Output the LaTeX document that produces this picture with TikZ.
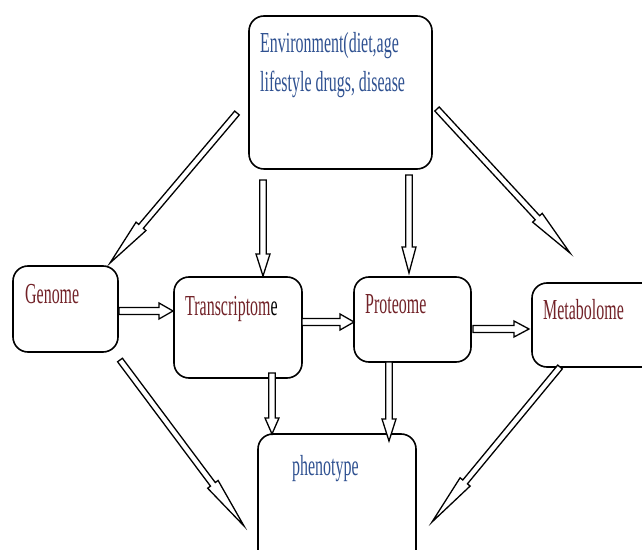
\documentclass[tikz,border=0pt]{standalone}
\usepackage{fontspec}
\setmainfont[FakeStretch=0.55]{Liberation Serif}
\usetikzlibrary{calc}
\definecolor{envblue}{HTML}{2F5191}
\definecolor{omred}{HTML}{722228}
\tikzset{
  box/.style={draw=black, line width=1.6pt, rounded corners=15pt, fill=white, inner sep=0pt},
  lbl/.style={anchor=base west, inner sep=0pt, font=\fontsize{29}{39}\selectfont},
  blk/.style={draw=black, line width=1.3pt, fill=white, line join=miter}
}
% #1 from, #2 to, #3 shaft half width, #4 head half width, #5 head length
\newcommand\blockarr[5]{%
  \coordinate (hb) at ($(#2)!#5!(#1)$);
  \draw[blk] ($(#1)!#3!90:(#2)$) -- ($(hb)!#3!-90:(#1)$) -- ($(hb)!#4!-90:(#1)$) -- (#2)
     -- ($(hb)!#4!90:(#1)$) -- ($(hb)!#3!90:(#1)$) -- ($(#1)!#3!-90:(#2)$) -- cycle;
}
\begin{document}
\begin{tikzpicture}[x=1pt,y=1pt]
\useasboundingbox (0,0) rectangle (642,549);
\clip (0,0) rectangle (642,549);
\fill[white] (0,0) rectangle (642,549);
% boxes (y flipped: y = 549 - ypix)
\node[box, minimum width=183pt, minimum height=153pt] (env) at (340.5,456.5) {};
\node[box, minimum width=105pt, minimum height=86pt] (gen) at (65.5,240) {};
\node[box, minimum width=128pt, minimum height=101pt] (tr) at (238,221.5) {};
\node[box, minimum width=117pt, minimum height=85pt] (pr) at (412.5,229.5) {};
\node[box, minimum width=130pt, minimum height=84pt] (met) at (597,224) {};
\node[box, minimum width=158pt, minimum height=131pt] (phen) at (337,49.5) {};
% texts
\node[lbl, text=envblue] (envA) at (260,496) {Environment(diet,age};
\node[lbl, text=envblue] (envB) at (260,457) {lifestyle drugs, disease};
\node[lbl, text=omred] (genT) at (25,245) {Genome};
\node[lbl, text=omred] (trT) at (185,233) {Transcriptom\textcolor{black}{e}};
\node[lbl, text=omred] (prT) at (365,235) {Proteome};
\node[lbl, text=omred] (metT) at (543,229) {Metabolome};
\node[lbl, text=envblue] (phT) at (292,74) {phenotype};
% arrow end points
\coordinate (a1s) at (237,436); \coordinate (a1e) at (110,286);
\coordinate (a2s) at (263,369); \coordinate (a2e) at (263,273);
\coordinate (a3s) at (409,374); \coordinate (a3e) at (409,276);
\coordinate (a4s) at (437,440); \coordinate (a4e) at (570,296);
\coordinate (a5s) at (119,238); \coordinate (a5e) at (173,238);
\coordinate (a6s) at (302,227); \coordinate (a6e) at (354,227);
\coordinate (a7s) at (473,220); \coordinate (a7e) at (529,220);
\coordinate (a8s) at (120,189); \coordinate (a8e) at (244,23);
\coordinate (a9s) at (272,176); \coordinate (a9e) at (272,115);
\coordinate (a10s) at (389,187); \coordinate (a10e) at (389,108);
\coordinate (a11s) at (560,182); \coordinate (a11e) at (432,27);
% arrows
\blockarr{a1s}{a1e}{3pt}{6.5pt}{48pt}
\blockarr{a2s}{a2e}{3.2pt}{7pt}{22pt}
\blockarr{a3s}{a3e}{3.2pt}{7pt}{26pt}
\blockarr{a4s}{a4e}{3pt}{6.5pt}{48pt}
\blockarr{a5s}{a5e}{3.5pt}{8pt}{14pt}
\blockarr{a6s}{a6e}{3.5pt}{8pt}{14pt}
\blockarr{a7s}{a7e}{3.5pt}{8pt}{15pt}
\blockarr{a8s}{a8e}{3pt}{6.5pt}{52pt}
\blockarr{a9s}{a9e}{3.2pt}{7pt}{16pt}
\blockarr{a10s}{a10e}{3.2pt}{7pt}{22pt}
\blockarr{a11s}{a11e}{3pt}{6.5pt}{52pt}
\end{tikzpicture}
\end{document}
